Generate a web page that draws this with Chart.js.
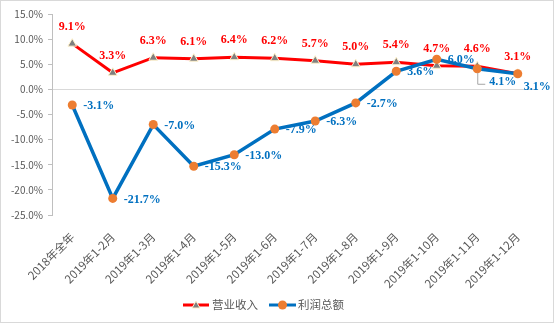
<!DOCTYPE html>
<html>
<head>
<meta charset="utf-8">
<script src="https://cdn.jsdelivr.net/npm/chart.js@4"></script>
<style>
  html, body { margin: 0; padding: 0; background: #fff; }
  #wrap { width: 554px; height: 323px; position: relative; }
</style>
</head>
<body>
<div id="wrap"><canvas id="chart" width="554" height="323"></canvas></div>
<script>
// Growth rates, cumulative by month
const categories = ['2018年全年', '2019年1-2月', '2019年1-3月', '2019年1-4月', '2019年1-5月', '2019年1-6月',
  '2019年1-7月', '2019年1-8月', '2019年1-9月', '2019年1-10月', '2019年1-11月', '2019年1-12月'];
const revenue = [9.1, 3.3, 6.3, 6.1, 6.4, 6.2, 5.7, 5.0, 5.4, 4.7, 4.6, 3.1];
const profit = [-3.1, -21.7, -7.0, -15.3, -13.0, -7.9, -6.3, -2.7, 3.6, 6.0, 4.1, 3.1];
const seriesNames = ['营业收入', '利润总额'];

const colors = {
  red: '#FF0000',
  blue: '#0070C0',
  orange: '#ED7D31',
  triangle: '#7F7F7F',
  axis: '#BFBFBF',
  text: '#595959',
  frame: '#D9D9D9'
};

const cjkFont = '"Noto Sans CJK SC", "Noto Sans", sans-serif';
const labelFont = 'bold 12px "Liberation Serif", "DejaVu Serif", serif';

// white background + thin outer frame
const framePlugin = {
  id: 'frame',
  beforeDraw(chart) {
    const { ctx, width, height } = chart;
    ctx.save();
    ctx.fillStyle = '#fff';
    ctx.fillRect(0, 0, width, height);
    ctx.strokeStyle = colors.frame;
    ctx.lineWidth = 1;
    ctx.strokeRect(0.5, 0.5, width - 1, height - 1);
    ctx.restore();
  }
};

// value labels: revenue above the marker, profit to the right
const valueLabels = {
  id: 'valueLabels',
  afterDatasetsDraw(chart) {
    const { ctx } = chart;
    ctx.save();
    ctx.font = labelFont;
    ctx.textBaseline = 'middle';

    const revMeta = chart.getDatasetMeta(1);
    ctx.fillStyle = colors.red;
    ctx.textAlign = 'center';
    revMeta.data.forEach((pt, i) => {
      ctx.fillText(revenue[i].toFixed(1) + '%', pt.x, pt.y - 17);
    });

    const profMeta = chart.getDatasetMeta(0);
    ctx.fillStyle = colors.blue;
    ctx.textAlign = 'left';
    profMeta.data.forEach((pt, i) => {
      let dx = 11, dy = 1;
      if (i === profit.length - 2) {
        // pulled-down label with a leader line
        dx = 12; dy = 13;
        ctx.save();
        ctx.strokeStyle = '#A6A6A6';
        ctx.lineWidth = 1;
        ctx.beginPath();
        ctx.moveTo(pt.x + 0.5, pt.y + 4);
        ctx.lineTo(pt.x + 0.5, pt.y + 15.5);
        ctx.lineTo(pt.x + 8, pt.y + 15.5);
        ctx.stroke();
        ctx.restore();
      } else if (i === profit.length - 1) {
        dx = 6; dy = 13;
      }
      ctx.fillText(profit[i].toFixed(1) + '%', pt.x + dx, pt.y + dy);
    });
    ctx.restore();
  }
};

// legend drawn as line + marker, like the series
const lineLegend = {
  id: 'lineLegend',
  afterDraw(chart) {
    const { ctx } = chart;
    const y = 305;
    ctx.save();
    ctx.font = '11.5px ' + cjkFont;
    ctx.textBaseline = 'middle';
    ctx.textAlign = 'left';

    // revenue
    let x = 183;
    ctx.strokeStyle = colors.red;
    ctx.lineWidth = 3;
    ctx.beginPath();
    ctx.moveTo(x, y);
    ctx.lineTo(x + 26, y);
    ctx.stroke();
    ctx.fillStyle = colors.triangle;
    ctx.strokeStyle = '#FFF2CC';
    ctx.lineWidth = 1;
    ctx.beginPath();
    ctx.moveTo(x + 13, y - 4);
    ctx.lineTo(x + 17, y + 3);
    ctx.lineTo(x + 9, y + 3);
    ctx.closePath();
    ctx.fill();
    ctx.stroke();
    ctx.fillStyle = colors.text;
    ctx.fillText(seriesNames[0], x + 29, y);

    // profit
    x = 269;
    ctx.strokeStyle = colors.blue;
    ctx.lineWidth = 3;
    ctx.beginPath();
    ctx.moveTo(x, y);
    ctx.lineTo(x + 27, y);
    ctx.stroke();
    ctx.fillStyle = colors.orange;
    ctx.beginPath();
    ctx.arc(x + 13.5, y, 4.5, 0, Math.PI * 2);
    ctx.fill();
    ctx.fillStyle = colors.text;
    ctx.fillText(seriesNames[1], x + 29, y);
    ctx.restore();
  }
};

new Chart(document.getElementById('chart'), {
  type: 'line',
  data: {
    labels: categories,
    datasets: [{
      label: seriesNames[1],
      data: profit,
      borderColor: colors.blue,
      borderWidth: 3.5,
      backgroundColor: colors.orange,
      pointBackgroundColor: colors.orange,
      pointBorderColor: colors.orange,
      pointBorderWidth: 0,
      pointRadius: 4.5,
      tension: 0
    }, {
      label: seriesNames[0],
      data: revenue,
      borderColor: colors.red,
      borderWidth: 3,
      pointStyle: 'triangle',
      pointBackgroundColor: colors.triangle,
      pointBorderColor: '#FFF2CC',
      pointBorderWidth: 1,
      pointRadius: 5,
      tension: 0
    }]
  },
  options: {
    responsive: false,
    animation: false,
    layout: { padding: { left: 0, right: 16, top: 14, bottom: 0 } },
    plugins: {
      legend: { display: false },
      tooltip: { enabled: false }
    },
    scales: {
      x: {
        offset: true,
        grid: { display: false },
        border: { display: false },
        ticks: {
          color: colors.text,
          font: { family: cjkFont, size: 11.5 },
          minRotation: 45,
          maxRotation: 45,
          padding: 7,
          autoSkip: false
        },
        afterFit(scale) { scale.height = 108; }
      },
      y: {
        min: -25,
        max: 15,
        border: { display: true, color: colors.axis, width: 1 },
        grid: {
          color: ctx => ctx.tick && ctx.tick.value === 0 ? colors.frame : 'transparent',
          tickColor: colors.axis,
          tickLength: 4
        },
        ticks: {
          stepSize: 5,
          color: colors.text,
          padding: 5,
          font: { family: cjkFont, size: 10 },
          callback: v => v.toFixed(1) + '%'
        },
        afterFit(scale) { scale.width = 52; }
      }
    }
  },
  plugins: [framePlugin, valueLabels, lineLegend]
});
</script>
</body>
</html>
